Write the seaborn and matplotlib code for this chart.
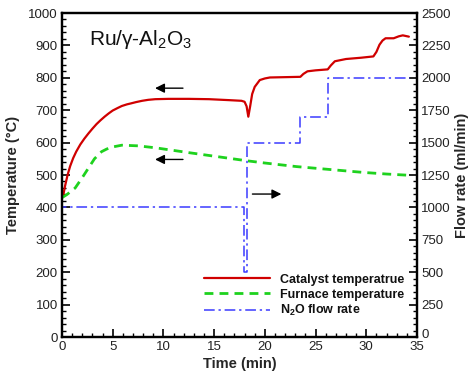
import matplotlib
matplotlib.use("Agg")
import matplotlib.pyplot as plt
from matplotlib.ticker import MultipleLocator
import matplotlib.transforms as mtransforms
import pandas as pd
import seaborn as sns

# ---- data ----
cat_time = [0, 0.13, 0.3, 0.55, 0.8, 1.1, 1.4, 1.8, 2.2, 2.6, 3.0, 3.4, 3.8, 4.2, 4.6,
            5.0, 5.5, 5.9, 6.4, 6.8, 7.3, 7.9, 8.5, 9.2, 10.5,
            12.5, 14.5, 16.5, 17.7, 18.0, 18.2, 18.37, 18.55, 18.75, 19.0, 19.5, 20.0,
            20.5, 22.0, 23.5, 23.8, 24.2, 25.0, 26.2, 26.5, 26.9, 28.0, 29.5, 30.7,
            31.0, 31.3, 31.6, 31.9, 32.7, 33.2, 33.6, 34.2]
cat_temp = [430, 438, 466, 500, 527, 552, 572, 594, 612, 628, 643, 657, 669, 680, 690,
            699, 707, 713, 718, 721, 725, 729, 732, 734, 735,
            735, 734, 731, 729, 726, 712, 680, 712, 750, 772, 793, 798,
            801, 802, 803, 812, 820, 823, 826, 838, 851, 858, 862, 866,
            880, 902, 915, 922, 922, 928, 931, 927]

fur_time = [0, 0.5, 1.3, 2.0, 2.6, 3.2, 3.9, 4.4, 4.9, 5.9, 7.5, 9.2, 12.5, 15.7, 18.2,
            20.0, 23.1, 26.4, 29.7, 32.0, 34.3]
fur_temp = [430, 440, 460, 492, 521, 550, 572, 580, 586, 592, 590, 584, 569, 555, 544,
            537, 526, 517, 508, 503, 499]

flow_time = [0, 0, 17.9, 18.25, 23.5, 26.2, 34.3]
flow_rate = [0, 1000, 500, 1500, 1700, 2000, 2000]

x_ticks = [0, 5, 10, 15, 20, 25, 30, 35]
left_ticks = list(range(0, 1001, 100))
right_ticks = list(range(0, 2501, 250))

labels = ["Catalyst temperatrue", "Furnace temperature", r"N$_\mathbf{2}$O flow rate"]

# ---- style ----
sns.set_theme(style="ticks")
plt.rcParams["font.family"] = ["Liberation Sans", "DejaVu Sans"]
plt.rcParams["mathtext.fontset"] = "custom"
plt.rcParams["mathtext.rm"] = "Liberation Sans"
plt.rcParams["mathtext.it"] = "Liberation Sans:italic"
plt.rcParams["mathtext.bf"] = "Liberation Sans:bold"

RED = "#D00000"
GREEN = "#1ED21E"
BLUE = "#3A3AFF"

fig = plt.figure(figsize=(4.72, 3.73), dpi=100)
ax = fig.add_axes([62 / 472, (373 - 337) / 373, 355 / 472, 324 / 373])
ax2 = ax.twinx()

cat_df = pd.DataFrame({"t": cat_time, "T": cat_temp})
fur_df = pd.DataFrame({"t": fur_time, "T": fur_temp})
flow_df = pd.DataFrame({"t": flow_time, "F": flow_rate})

sns.lineplot(data=cat_df, x="t", y="T", ax=ax, color=RED, linewidth=1.6,
             estimator=None, sort=False, label=labels[0], legend=False)
sns.lineplot(data=fur_df, x="t", y="T", ax=ax, color=GREEN, linewidth=2.0,
             linestyle=(0, (3.2, 2.2)), estimator=None, sort=False,
             label=labels[1], legend=False)
sns.lineplot(data=flow_df, x="t", y="F", ax=ax2, color=BLUE, linewidth=1.1,
             linestyle=(0, (7, 2.5, 1.5, 2.5)), drawstyle="steps-post",
             estimator=None, sort=False, label=labels[2], legend=False)

ax.set_xlim(0, 35)
ax.set_ylim(0, 1000)
ax2.set_ylim(0, 2500)
ax.set_xticks(x_ticks)
ax.set_yticks(left_ticks)
ax2.set_yticks(right_ticks)
ax.xaxis.set_minor_locator(MultipleLocator(1))
ax.yaxis.set_minor_locator(MultipleLocator(20))
ax2.yaxis.set_minor_locator(MultipleLocator(50))

for a in (ax, ax2):
    for s in a.spines.values():
        s.set_linewidth(1.6)
        s.set_color("black")
ax.tick_params(axis="both", which="major", direction="in", length=6, width=1.2,
               labelsize=9.5, pad=3, colors="black", labelcolor="#222222")
ax.tick_params(axis="both", which="minor", direction="in", length=3.2, width=1.0,
               colors="black")
ax.tick_params(top=False, which="both")
ax2.tick_params(axis="y", which="major", direction="in", length=6, width=1.2,
                labelsize=9.5, pad=3, colors="black", labelcolor="#222222")
ax2.tick_params(axis="y", which="minor", direction="in", length=3.2, width=1.0,
                colors="black")

# lift the right-axis "0" slightly so it clears the "35" below it
fig.canvas.draw()
for lab in ax2.get_yticklabels():
    if lab.get_text() == "0":
        lab.set_transform(lab.get_transform() +
                          mtransforms.ScaledTranslation(0, 3 / 100, fig.dpi_scale_trans))

ax.set_xlabel("Time (min)", fontsize=10.5, fontweight="bold")
ax.set_ylabel("Temperature (\u00b0C)", fontsize=10.5, fontweight="bold")
ax2.set_ylabel("Flow rate (ml/min)", fontsize=10.5, fontweight="bold", rotation=90)
ax.xaxis.set_label_coords(0.501, -0.062)
ax.yaxis.set_label_coords(-0.118, 0.5)
ax2.yaxis.set_label_coords(1.107, 0.5)

ax.text(2.66, 901, "Ru/\u03b3-Al$_2$O$_3$", fontsize=15, va="baseline", ha="left",
        color="#111111")

arrow = dict(arrowstyle="-|>", color="black", lw=1.0, mutation_scale=14)
ax.annotate("", xy=(8.9, 768), xytext=(12.2, 768), arrowprops=arrow)
ax.annotate("", xy=(8.9, 548), xytext=(12.2, 548), arrowprops=arrow)
ax2.annotate("", xy=(21.9, 1103), xytext=(18.5, 1103), arrowprops=arrow)

handles = ax.get_lines()[:2] + ax2.get_lines()[:1]
leg = ax.legend(handles, labels, loc="upper left", bbox_to_anchor=(0.40, 0.195),
                frameon=False, borderpad=0, borderaxespad=0, handlelength=5.3,
                handletextpad=0.8, labelspacing=0.22,
                prop={"size": 9, "weight": "bold"})
for t in leg.get_texts():
    t.set_color("#111111")

fig.savefig("out.png", dpi=100)
